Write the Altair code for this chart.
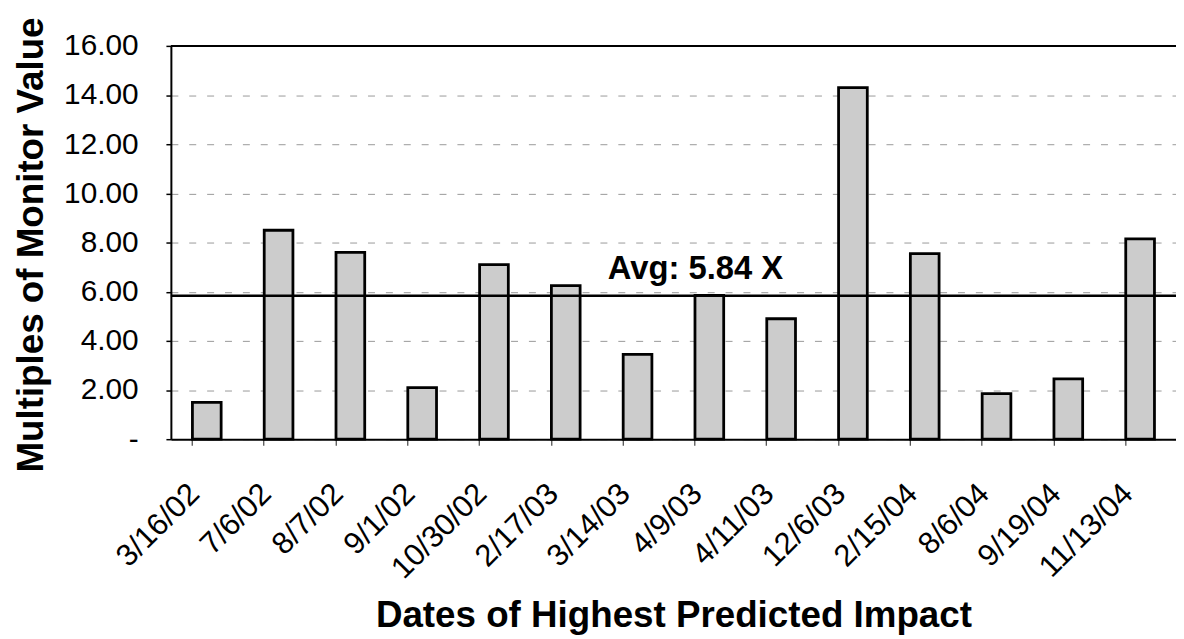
import altair as alt
import pandas as pd

# ---- data ----
dates = ["3/16/02", "7/6/02", "8/7/02", "9/1/02", "10/30/02", "2/17/03", "3/14/03",
         "4/9/03", "4/11/03", "12/6/03", "2/15/04", "8/6/04", "9/19/04", "11/13/04"]
multiples = [1.50, 8.50, 7.60, 2.10, 7.10, 6.25, 3.45,
             5.85, 4.90, 14.30, 7.55, 1.85, 2.45, 8.15]
avg_value = 5.84
avg_label = "Avg: 5.84 X"
avg_anchor = "3/14/03"
y_ticks = [0, 2, 4, 6, 8, 10, 12, 14, 16]
y_max = 16

x_title = "Dates of Highest Predicted Impact"
y_title = "Multiples of Monitor Value"

bars_df = pd.DataFrame({"date": dates, "multiple": multiples})
avg_df = pd.DataFrame({"date": [avg_anchor], "avg": [avg_value], "label": [avg_label]})
top_df = pd.DataFrame({"top": [y_max]})

FONT = "Liberation Sans"
W, H = 1012, 396

x_scale = alt.Scale(domain=dates, paddingInner=0.6, paddingOuter=0.3)
y_scale = alt.Scale(domain=[0, y_max], nice=False, zero=True)

x_axis = alt.Axis(
    title=x_title, labelAngle=-45, labelFont=FONT, labelFontSize=31,
    labelColor="black", labelPadding=44, labelAlign="right", labelBaseline="middle",
    labelOffset=-12, bandPosition=0,
    ticks=True, tickSize=6, tickColor="#444444", tickWidth=1.2,
    grid=False, domainColor="black", domainWidth=2,
    titleFont=FONT, titleFontSize=37, titleFontWeight="bold", titleColor="black",
    titleY=189, titleBaseline="alphabetic",
)
y_axis = alt.Axis(
    title=y_title, values=y_ticks,
    labelExpr="datum.value == 0 ? '-\u2007\u2007\u2007' : format(datum.value, '.2f')",
    labelFont=FONT, labelFontSize=30, labelColor="black", labelPadding=28,
    tickSize=5, tickColor="black", tickWidth=1.5,
    domainColor="black", domainWidth=2,
    grid=True, gridColor="#777777", gridDash=[7, 11], gridWidth=1, gridOpacity=0.75,
    titleFont=FONT, titleFontSize=37, titleFontWeight="bold", titleColor="black",
    titleAngle=-90, titleX=-129, titleY=200, titleAlign="center",
    titleBaseline="alphabetic",
)

bars = alt.Chart(bars_df).mark_bar(
    fill="#cccccc", stroke="black", strokeWidth=2.8
).encode(
    x=alt.X("date:N", sort=dates, scale=x_scale, axis=x_axis),
    y=alt.Y("multiple:Q", scale=y_scale, axis=y_axis),
)

top_line = alt.Chart(top_df).mark_rule(color="black", strokeWidth=2).encode(
    y=alt.Y("top:Q", scale=y_scale),
)

avg_rule = alt.Chart(avg_df).mark_rule(color="black", strokeWidth=2.5).encode(
    y=alt.Y("avg:Q", scale=y_scale),
)

avg_text = alt.Chart(avg_df).mark_text(
    font=FONT, fontSize=33, fontWeight="bold", color="black",
    align="left", baseline="alphabetic", dx=-30, dy=-17,
).encode(
    x=alt.X("date:N", sort=dates, scale=x_scale),
    y=alt.Y("avg:Q", scale=y_scale),
    text="label:N",
)

chart = alt.layer(bars, top_line, avg_rule, avg_text).properties(
    width=W, height=H,
    autosize=alt.AutoSizeParams(type="none"),
    padding={"left": 164, "top": 36, "right": 0, "bottom": 195},
    background="white",
).configure_view(stroke=None)

chart.save("out.html", embed_options={"renderer": "svg", "actions": False})
